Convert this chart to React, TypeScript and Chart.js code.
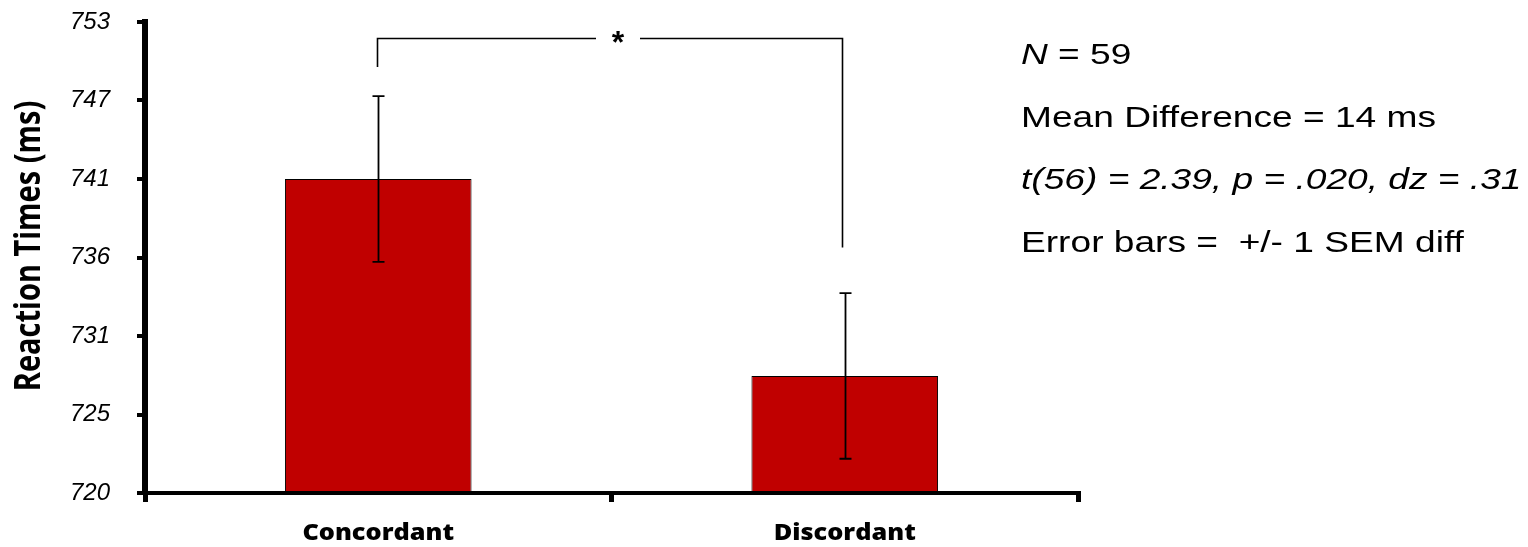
import React, { useEffect, useRef } from 'react';
import { Chart, registerables } from 'chart.js';

Chart.register(...registerables);

// ---- data ----
const categories = ['Concordant', 'Discordant'];
const meanRT = [742.0, 728.2];
const semDiff = [5.8, 5.8];
const yTickLabels = ['720', '725', '731', '736', '741', '747', '753'];
const yRange = [720, 753];
const yStep = 5.5;
const bracketTop = [751.9];
const bracketEnds = [749.85, 737.2];
const significanceMark = ['*'];
const axisTitle = ['Reaction Times (ms)'];
const statsLines = [
  [{ t: 'N', i: true }, { t: ' = 59', i: false }],
  [{ t: 'Mean Difference = 14 ms', i: false }],
  [{ t: 't(56) = 2.39, p = .020, dz = .31', i: true }],
  [{ t: 'Error bars =  +/- 1 SEM diff', i: false }],
];

function drawStretched(ctx: CanvasRenderingContext2D, text: string, x: number, y: number, sx: number) {
  ctx.save();
  ctx.translate(x, y);
  ctx.scale(sx, 1);
  ctx.fillText(text, 0, 0);
  ctx.restore();
}

const annotPlugin = {
  id: 'annot',
  afterDatasetsDraw(chart: any) {
    const ctx: CanvasRenderingContext2D = chart.ctx;
    const y = chart.scales.y;
    const meta = chart.getDatasetMeta(0);
    ctx.save();
    ctx.strokeStyle = '#000';
    ctx.lineWidth = 1.8;
    // error bars
    meta.data.forEach((bar: any, i: number) => {
      const x = Math.round(bar.x) + 0.5;
      const top = y.getPixelForValue(meanRT[i] + semDiff[i]);
      const bot = y.getPixelForValue(meanRT[i] - semDiff[i]);
      ctx.beginPath();
      ctx.moveTo(x, top);
      ctx.lineTo(x, bot);
      ctx.moveTo(x - 6, top);
      ctx.lineTo(x + 6, top);
      ctx.moveTo(x - 6, bot);
      ctx.lineTo(x + 6, bot);
      ctx.stroke();
    });
    // significance bracket
    const xL = Math.round(meta.data[0].x) - 0.5;
    const xR = Math.round(meta.data[1].x) - 2.5;
    const yT = Math.round(y.getPixelForValue(bracketTop[0])) + 0.5;
    const yL = y.getPixelForValue(bracketEnds[0]);
    const yR = y.getPixelForValue(bracketEnds[1]);
    const mid = (xL + xR) / 2 + 8;
    ctx.lineWidth = 1.6;
    ctx.beginPath();
    ctx.moveTo(xL, yL);
    ctx.lineTo(xL, yT);
    ctx.lineTo(mid - 22, yT);
    ctx.moveTo(mid + 22, yT);
    ctx.lineTo(xR, yT);
    ctx.lineTo(xR, yR);
    ctx.stroke();
    ctx.fillStyle = '#000';
    ctx.font = 'bold 32px "Liberation Sans", Arial, sans-serif';
    ctx.textAlign = 'center';
    ctx.textBaseline = 'alphabetic';
    ctx.fillText(significanceMark[0], mid, yT + 14);
    ctx.restore();
  },
  afterDraw(chart: any) {
    const ctx: CanvasRenderingContext2D = chart.ctx;
    const xs = chart.scales.x;
    const area = chart.chartArea;
    ctx.save();
    // solid y axis line
    ctx.strokeStyle = '#000';
    ctx.lineWidth = 6;
    ctx.beginPath();
    ctx.moveTo(area.left, area.top - 2);
    ctx.lineTo(area.left, area.bottom + 2);
    ctx.stroke();
    ctx.fillStyle = '#000';
    // x category labels
    ctx.font = '800 23px "Open Sans", sans-serif';
    ctx.textBaseline = 'alphabetic';
    categories.forEach((c, i) => {
      const cx = xs.getPixelForValue(i);
      const sxl = 1.1;
      const w = ctx.measureText(c).width * sxl;
      drawStretched(ctx, c, cx - w / 2, 540, sxl);
    });
    // y axis title
    ctx.save();
    ctx.translate(30, 246);
    ctx.rotate(-Math.PI / 2);
    ctx.scale(1, 1.22);
    ctx.font = 'bold 29px "Open Sans", sans-serif';
    ctx.textAlign = 'center';
    ctx.textBaseline = 'middle';
    ctx.fillText(axisTitle[0], 0, 0);
    ctx.restore();
    // stats text
    const sx = 1.28;
    statsLines.forEach((line, li) => {
      let x = 1021;
      const base = 64 + li * 62.5;
      line.forEach((seg) => {
        ctx.font = (seg.i ? 'italic ' : '') + '29px "Liberation Sans", Arial, sans-serif';
        ctx.textAlign = 'left';
        drawStretched(ctx, seg.t, x, base, sx);
        x += ctx.measureText(seg.t).width * sx;
      });
    });
    ctx.restore();
  },
};

export default function App() {
  const ref = useRef<HTMLCanvasElement>(null);
  useEffect(() => {
    document.body.style.margin = '0';
    const chart = new Chart(ref.current!, {
      type: 'bar',
      data: {
        labels: categories,
        datasets: [
          {
            data: meanRT,
            base: yRange[0],
            backgroundColor: '#C00000',
            borderColor: '#000',
            borderWidth: 1,
            barPercentage: 0.4,
            categoryPercentage: 1,
          } as any,
        ],
      },
      options: {
        animation: false,
        responsive: false,
        devicePixelRatio: 1,
        layout: { padding: { top: 22, right: 450, left: 0, bottom: 0 } },
        plugins: { legend: { display: false }, tooltip: { enabled: false }, title: { display: false } },
        scales: {
          x: {
            grid: { offset: true, drawOnChartArea: false, drawTicks: true, tickLength: 9, color: '#000', lineWidth: 5 },
            border: { display: true, color: '#000', width: 4 },
            ticks: { display: false },
            afterFit: (s: any) => { s.height = 54; s.paddingLeft = 0; s.paddingRight = 0; },
          },
          y: {
            min: yRange[0],
            max: yRange[1],
            ticks: {
              stepSize: yStep,
              autoSkip: false,
              callback: (_v: any, i: number) => yTickLabels[i],
              font: { family: '"Liberation Sans", Arial, sans-serif', style: 'italic', size: 24 },
              color: '#000',
              padding: 27,
            },
            grid: { drawOnChartArea: false, drawTicks: true, tickLength: 8, color: '#000', lineWidth: 4 },
            border: { display: true, color: '#000', width: 6 },
            afterFit: (s: any) => { s.width = 145; s.paddingTop = 0; s.paddingBottom = 0; },
          },
        },
      } as any,
      plugins: [annotPlugin],
    });
    return () => chart.destroy();
  }, []);
  return <canvas ref={ref} width={1528} height={547} style={{ display: 'block' }} />;
}
